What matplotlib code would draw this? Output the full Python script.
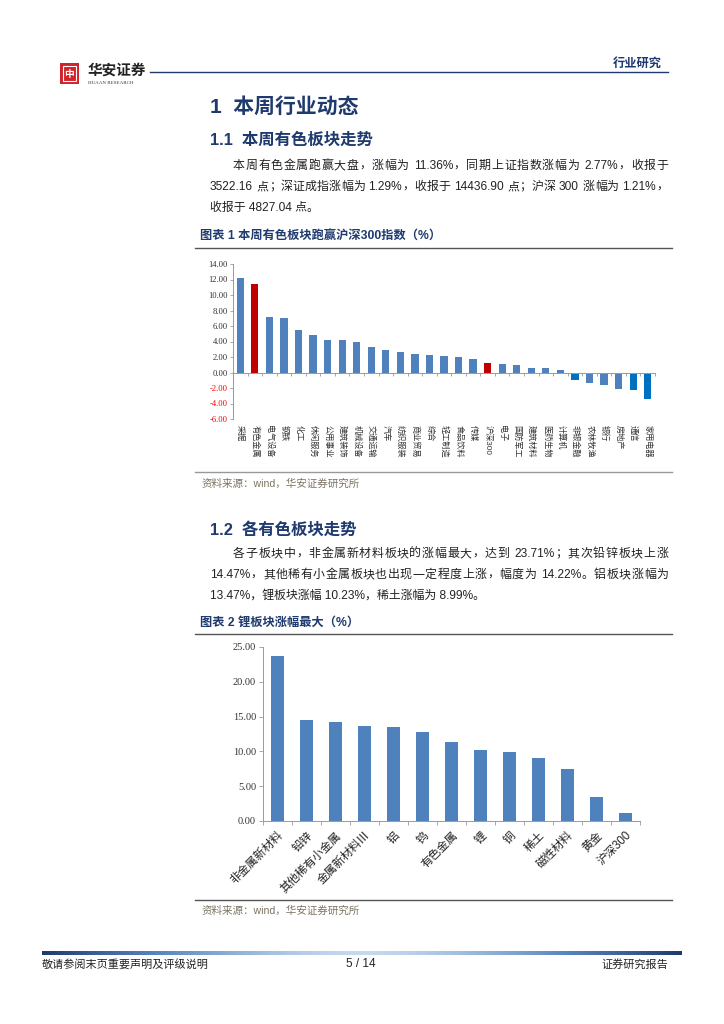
import re
import numpy as np
import matplotlib
matplotlib.use('Agg')
import matplotlib.pyplot as plt
from matplotlib.patches import Rectangle
import matplotlib.transforms as mtransforms

plt.rcParams['font.family'] = ['Liberation Sans', 'Noto Sans CJK SC', 'DejaVu Sans']

W, H = 724, 1024
NAVY = '#1f3a6e'
BLUE = '#4f81bd'
DARK_BLUE = '#0070c0'
RED = '#c00000'
SRC = '#7d7462'

# chart 1 data
sectors = ['采掘', '有色金属', '电气设备', '钢铁', '化工', '休闲服务', '公用事业', '建筑装饰',
           '机械设备', '交通运输', '汽车', '纺织服装', '商业贸易', '综合', '轻工制造', '食品饮料',
           '传媒', '沪深300', '电子', '国防军工', '建筑材料', '医药生物', '计算机', '非银金融',
           '农林牧渔', '银行', '房地产', '通信', '家用电器']
sector_chg = [12.20, 11.36, 7.10, 7.05, 5.45, 4.85, 4.25, 4.20, 3.95, 3.25, 2.85, 2.70, 2.45,
              2.20, 2.15, 1.95, 1.75, 1.21, 1.10, 1.00, 0.60, 0.60, 0.35, -1.00, -1.35, -1.65,
              -2.10, -2.30, -3.40]
red_bars = ['有色金属', '沪深300']
dark_bars = ['非银金融', '通信', '家用电器']

# chart 2 data
subs = ['非金属新材料', '铅锌', '其他稀有小金属', '金属新材料Ⅲ', '铝', '钨', '有色金属', '锂',
        '铜', '稀土', '磁性材料', '黄金', '沪深300']
sub_chg = [23.71, 14.47, 14.22, 13.60, 13.47, 12.75, 11.36, 10.23, 9.85, 8.99, 7.50, 3.50, 1.21]

fig = plt.figure(figsize=(W / 100, H / 100), dpi=100)
fig.patch.set_facecolor('white')

# page layer in pixel coordinates
pg = fig.add_axes([0, 0, 1, 1])
pg.set_xlim(0, W)
pg.set_ylim(H, 0)
pg.axis('off')
renderer = fig.canvas.get_renderer()


def px_axes(x0, y0, x1, y1):
    return fig.add_axes([x0 / W, 1 - y1 / H, (x1 - x0) / W, (y1 - y0) / H])


def justified(x0, x1, y, s, size):
    # split into latin runs, spaces and single CJK chars, then spread them to the width
    toks = re.findall(r'[A-Za-z0-9.%]+| |.', s)
    items = []
    for t in toks:
        if t == ' ':
            items.append((None, 3.5))
        else:
            o = pg.text(0, y, t, fontsize=size, va='center', ha='left', color='#222222')
            items.append((o, o.get_window_extent(renderer).width))
    gap = (x1 - x0 - sum(w for _, w in items)) / (len(items) - 1)
    x = x0
    for o, w in items:
        if o is not None:
            o.set_x(x)
        x += w + gap


def paragraph(lines, y0, size=8.6):
    for i, line in enumerate(lines):
        xs = 233 if i == 0 else 210
        y = y0 + i * 21
        if i < len(lines) - 1:
            justified(xs, 668, y, line, size)
        else:
            pg.text(xs, y, line, fontsize=size, va='center', ha='left', color='#222222')


# header
pg.add_patch(Rectangle((60, 63), 19, 21, facecolor='#d2232a', edgecolor='none'))
pg.add_patch(Rectangle((63, 66), 13, 15, facecolor='none', edgecolor='white', lw=0.8))
pg.text(69.5, 74, '中', color='white', fontsize=7, ha='center', va='center', fontweight='bold')
pg.text(88, 71, '华安证券', fontsize=10.5, ha='left', va='center', color='#222222',
        fontstyle='italic', fontweight='bold')
pg.text(88, 83.5, 'HUAAN RESEARCH', fontsize=3.6, ha='left', va='center', color='#333333',
        family='Liberation Serif')
pg.plot([150, 668], [72, 72], color=NAVY, lw=1)
pg.text(662, 64, '行业研究', fontsize=8.8, ha='right', va='center', color=NAVY, fontweight='bold')

# section 1
pg.text(210, 107, '1  本周行业动态', fontsize=15, fontweight='bold', color=NAVY, va='center')
pg.text(210, 140, '1.1  本周有色板块走势', fontsize=11.8, fontweight='bold', color=NAVY, va='center')
body1 = ['本周有色金属跑赢大盘，涨幅为 11.36%，同期上证指数涨幅为 2.77%，收报于',
         '3522.16 点；深证成指涨幅为 1.29%，收报于 14436.90 点；沪深 300 涨幅为 1.21%，',
         '收报于 4827.04 点。']
paragraph(body1, 166)

pg.text(200, 236, '图表 1 本周有色板块跑赢沪深300指数（%）', fontsize=8.8, fontweight='bold',
        color=NAVY, va='center')
pg.plot([195, 672], [248, 248], color='#555555', lw=1)
pg.plot([195, 672], [472, 472], color='#999999', lw=1)
pg.text(202, 484, '资料来源：wind，华安证券研究所', fontsize=7.6, color=SRC, va='center')

# chart 1
ax1 = px_axes(233, 264, 655, 419)
x1 = np.arange(len(sectors))
cols1 = [RED if s in red_bars else DARK_BLUE if s in dark_bars else BLUE for s in sectors]
ax1.bar(x1, sector_chg, width=0.5, color=cols1, zorder=2)
ax1.set_xlim(-0.5, len(sectors) - 0.5)
ax1.set_ylim(-6, 14)
ax1.set_yticks(np.arange(-6, 15, 2))
ax1.set_yticklabels([f'{v:.2f}' for v in np.arange(-6, 15, 2)], family='Liberation Serif', fontsize=6.2)
for lab, v in zip(ax1.get_yticklabels(), np.arange(-6, 15, 2)):
    lab.set_color('#ff0000' if v < 0 else '#333333')
ax1.tick_params(axis='y', length=2.5, width=0.6, color='#999999', pad=1)
ax1.spines['bottom'].set_position(('data', 0))
for sp in ['top', 'right']:
    ax1.spines[sp].set_visible(False)
ax1.spines['left'].set_color('#999999')
ax1.spines['bottom'].set_color('#999999')
ax1.spines['left'].set_linewidth(0.7)
ax1.spines['bottom'].set_linewidth(0.7)
ax1.set_xticks(x1)
ax1.set_xticklabels([])
ax1.tick_params(axis='x', which='major', length=0)
ax1.set_xticks(np.arange(-0.5, len(sectors), 1), minor=True)
ax1.tick_params(axis='x', which='minor', length=2.5, width=0.6, color='#999999', direction='out')
tr1 = mtransforms.blended_transform_factory(ax1.transData, ax1.transAxes)
for xi, s in zip(x1, sectors):
    ax1.text(xi, -0.04, s, transform=tr1, rotation=-90, ha='center', va='top', fontsize=5.9,
             color='#333333')

# section 2
pg.text(210, 530, '1.2  各有色板块走势', fontsize=11.8, fontweight='bold', color=NAVY, va='center')
body2 = ['各子板块中，非金属新材料板块的涨幅最大，达到 23.71%；其次铅锌板块上涨',
         '14.47%，其他稀有小金属板块也出现一定程度上涨，幅度为 14.22%。铝板块涨幅为',
         '13.47%，锂板块涨幅 10.23%，稀土涨幅为 8.99%。']
paragraph(body2, 554)

pg.text(200, 623, '图表 2 锂板块涨幅最大（%）', fontsize=8.8, fontweight='bold', color=NAVY, va='center')
pg.plot([195, 672], [634, 634], color='#555555', lw=1)
pg.plot([195, 672], [900, 900], color='#555555', lw=1)
pg.text(202, 911, '资料来源：wind，华安证券研究所', fontsize=7.6, color=SRC, va='center')

# chart 2
ax2 = px_axes(263, 647, 640, 821)
x2 = np.arange(len(subs))
ax2.bar(x2, sub_chg, width=0.42, color=BLUE, zorder=2)
ax2.set_xlim(-0.5, len(subs) - 0.5)
ax2.set_ylim(0, 25)
ax2.set_yticks(np.arange(0, 26, 5))
ax2.set_yticklabels([f'{v:.2f}' for v in np.arange(0, 26, 5)], family='Liberation Serif',
                    fontsize=7.5, color='#333333')
ax2.tick_params(axis='y', length=3, width=0.6, color='#999999', pad=2)
for sp in ['top', 'right']:
    ax2.spines[sp].set_visible(False)
for sp in ['left', 'bottom']:
    ax2.spines[sp].set_color('#999999')
    ax2.spines[sp].set_linewidth(0.7)
ax2.set_xticks(x2)
ax2.set_xticklabels(subs, rotation=45, ha='right', va='top', fontsize=8.3, color='#222222',
                    rotation_mode='anchor')
ax2.tick_params(axis='x', which='major', length=0, pad=6)
ax2.set_xticks(np.arange(-0.5, len(subs), 1), minor=True)
ax2.tick_params(axis='x', which='minor', length=3, width=0.6, color='#999999', direction='out')

# footer
grad = pg.inset_axes([42, 951, 640, 4], transform=pg.transData)
g = np.abs(np.linspace(-1, 1, 400)) ** 1.5
grad.imshow(g[None, :], aspect='auto', cmap=matplotlib.colors.LinearSegmentedColormap.from_list(
    'ft', ['#c5d9ef', '#5a87c0', '#1f3a6e']), extent=[0, 1, 0, 1])
grad.axis('off')
pg.text(42, 964, '敬请参阅末页重要声明及评级说明', fontsize=8, va='center', color='#222222')
pg.text(361, 964, '5 / 14', fontsize=8.5, va='center', ha='center', color='#222222')
pg.text(668, 964, '证券研究报告', fontsize=8, va='center', ha='right', color='#222222')

fig.savefig('out.png', dpi=100)
